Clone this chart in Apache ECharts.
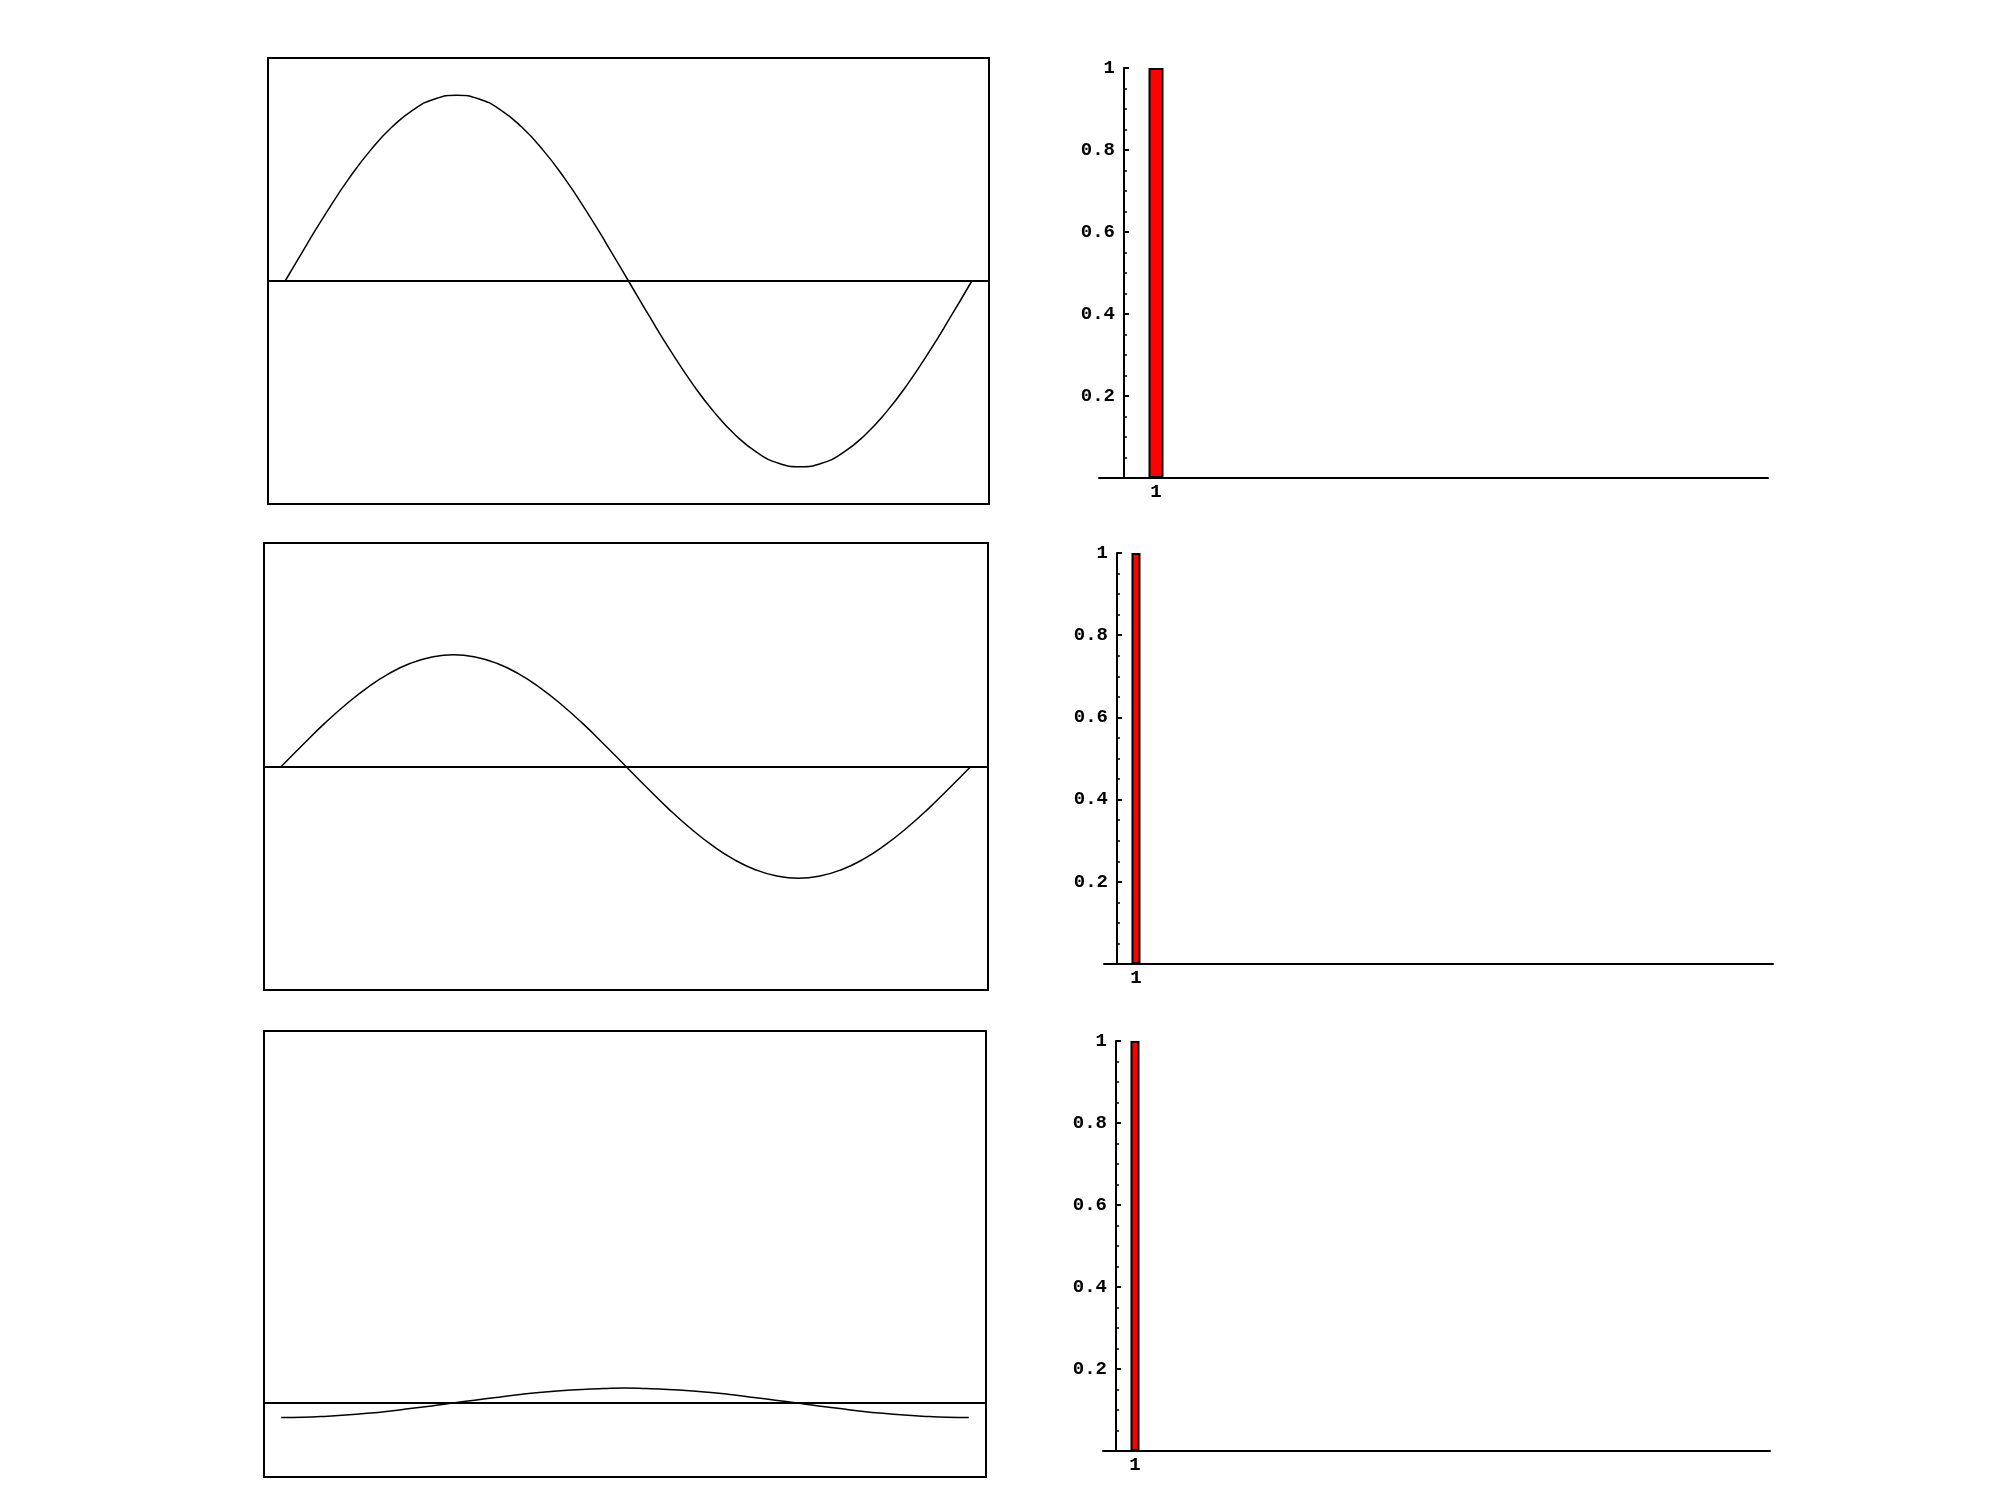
<!DOCTYPE html>
<html>
<head>
<meta charset="utf-8">
<script src="https://cdn.jsdelivr.net/npm/echarts@6/dist/echarts.min.js"></script>
<style>
html,body{margin:0;padding:0;background:#fff;}
#c{width:2000px;height:1500px;}
</style>
</head>
<body>
<div id="c"></div>
<script>
// ---- data ----
const waveX = [0,0.03125,0.0625,0.09375,0.125,0.15625,0.1875,0.21875,0.25,0.28125,0.3125,0.34375,0.375,0.40625,0.4375,0.46875,0.5,0.53125,0.5625,0.59375,0.625,0.65625,0.6875,0.71875,0.75,0.78125,0.8125,0.84375,0.875,0.90625,0.9375,0.96875,1];
const wave1 = [0,0.195,0.383,0.556,0.707,0.831,0.924,0.981,1.000,0.981,0.924,0.831,0.707,0.556,0.383,0.195,0,-0.195,-0.383,-0.556,-0.707,-0.831,-0.924,-0.981,-1.000,-0.981,-0.924,-0.831,-0.707,-0.556,-0.383,-0.195,0];
const wave2 = [0,0.117,0.230,0.333,0.424,0.499,0.554,0.588,0.600,0.588,0.554,0.499,0.424,0.333,0.230,0.117,0,-0.117,-0.230,-0.333,-0.424,-0.499,-0.554,-0.588,-0.600,-0.588,-0.554,-0.499,-0.424,-0.333,-0.230,-0.117,0];
const wave3 = [-0.100,-0.098,-0.092,-0.083,-0.071,-0.056,-0.038,-0.020,0,0.020,0.039,0.057,0.073,0.085,0.094,0.100,0.104,0.100,0.094,0.085,0.073,0.057,0.039,0.020,0,-0.020,-0.038,-0.056,-0.071,-0.083,-0.092,-0.098,-0.100];
const barCats = [1];
const bar1 = [1];
const bar2 = [1];
const bar3 = [1];
const yTickValues = [0, 0.2, 0.4, 0.6, 0.8, 1];
const yTickLabels = ['', '0.2', '0.4', '0.6', '0.8', '1'];
const xTickLabels = ['1'];

const pairs = (xs, ys) => xs.map((x, i) => [x, ys[i]]);

const FONT = 'Liberation Mono';
const black = '#000';

function leftGrid(l, t, w, h) {
  return {left: l, top: t, width: w, height: h, show: true, borderColor: black, borderWidth: 2, backgroundColor: 'transparent', containLabel: false};
}
function rightGrid(l, t, w, h) {
  return {left: l, top: t, width: w, height: h, show: false, containLabel: false};
}
function leftX(idx) {
  return {type: 'value', gridIndex: idx, min: -0.025, max: 1.025,
    axisLine: {show: true, onZero: true, lineStyle: {color: black, width: 2}},
    axisTick: {show: false}, axisLabel: {show: false}, splitLine: {show: false}};
}
function leftY(idx, mn, mx) {
  return {type: 'value', gridIndex: idx, min: mn, max: mx,
    axisLine: {show: false}, axisTick: {show: false}, axisLabel: {show: false}, splitLine: {show: false}};
}
function rightX(idx, mn, mx) {
  return {type: 'value', gridIndex: idx, min: mn, max: mx,
    axisLine: {show: true, onZero: false, lineStyle: {color: black, width: 2}},
    axisTick: {show: false},
    splitLine: {show: false},
    axisLabel: {show: true, customValues: barCats, margin: 5, color: black,
      fontFamily: FONT, fontSize: 19, fontWeight: 'bold',
      formatter: v => { const i = barCats.indexOf(v); return i >= 0 ? xTickLabels[i] : ''; }}};
}
function rightY(idx, labelMargin) {
  return {type: 'value', gridIndex: idx, min: 0, max: 1, interval: 0.2,
    axisLine: {show: true, onZero: true, lineStyle: {color: black, width: 2}},
    axisTick: {show: true, inside: true, length: 5, lineStyle: {color: black, width: 2}},
    minorTick: {show: true, splitNumber: 4, length: 3, lineStyle: {color: black, width: 1.5}},
    splitLine: {show: false}, minorSplitLine: {show: false},
    axisLabel: {show: true, margin: labelMargin, color: black, fontFamily: FONT, fontSize: 19, fontWeight: 'bold',
      formatter: v => { const i = yTickValues.findIndex(t => Math.abs(t - v) < 1e-9); return i >= 0 ? yTickLabels[i] : ''; }}};
}
function lineSeries(idx, ys) {
  return {type: 'line', xAxisIndex: idx, yAxisIndex: idx, data: pairs(waveX, ys),
    smooth: true, symbol: 'none', lineStyle: {color: black, width: 1.5}, silent: true};
}
function barSeries(idx, vals, w) {
  return {type: 'bar', xAxisIndex: idx, yAxisIndex: idx, data: pairs(barCats, vals),
    barWidth: w, itemStyle: {color: '#ff0000', borderColor: black, borderWidth: 2}, silent: true};
}

const chart = echarts.init(document.getElementById('c'), null, {renderer: 'canvas'});
chart.setOption({
  backgroundColor: '#fff',
  animation: false,
  grid: [
    leftGrid(268, 58, 721, 446),
    leftGrid(264, 543, 724, 447),
    leftGrid(264, 1031, 722, 446),
    rightGrid(1099, 68, 669, 410),
    rightGrid(1104, 553, 669, 411),
    rightGrid(1103, 1041, 667, 410)
  ],
  xAxis: [
    leftX(0), leftX(1), leftX(2),
    rightX(3, -0.781, 20.125),
    rightX(4, -0.684, 34.53),
    rightX(5, -0.684, 34.42)
  ],
  yAxis: [
    leftY(0, -1.2, 1.2), leftY(1, -1.2, 1.2), leftY(2, -0.51, 2.566),
    rightY(3, -16), rightY(4, -4), rightY(5, -4)
  ],
  series: [
    lineSeries(0, wave1), lineSeries(1, wave2), lineSeries(2, wave3),
    barSeries(3, bar1, 15), barSeries(4, bar2, 9), barSeries(5, bar3, 9)
  ]
});
</script>
</body>
</html>
